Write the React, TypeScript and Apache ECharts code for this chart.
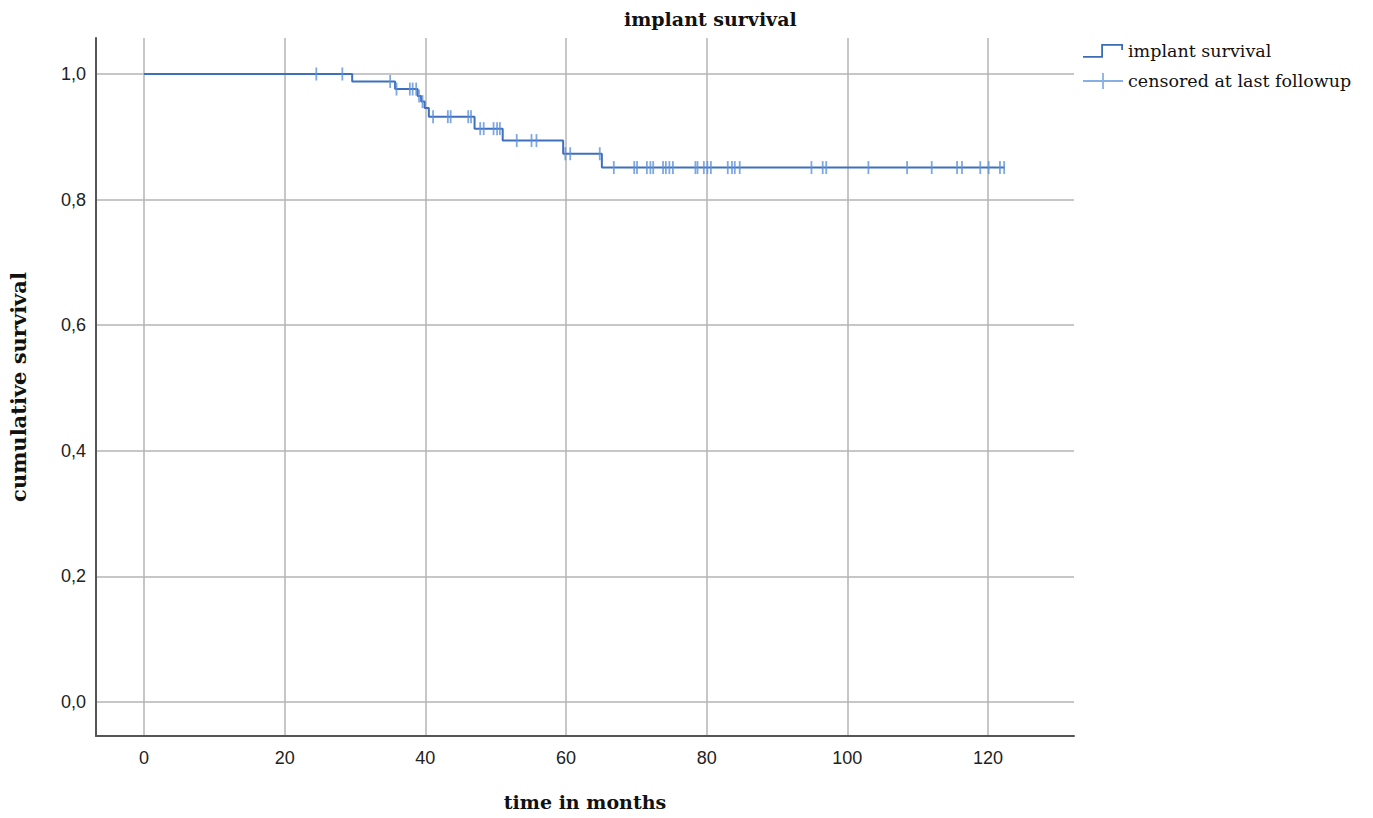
import React, { useEffect, useRef } from "react";
import * as echarts from "echarts";

// Kaplan-Meier step points: time (months) and survival after that time
const eventTimes = [0, 29.6, 35.7, 38.9, 39.4, 39.9, 40.5, 47.0, 51.0, 59.6, 65.1, 122.4];
const survival = [1.0, 0.988, 0.976, 0.965, 0.956, 0.946, 0.932, 0.913, 0.894, 0.873, 0.851, 0.851];

// censored observations (months)
const censorTimes = [
  24.5, 28.2, 35.0, 35.9, 37.8, 38.2, 38.7, 39.1, 39.6, 41.1, 43.2, 43.6, 46.1, 46.5,
  47.8, 48.3, 49.7, 50.2, 50.6, 53.0, 55.1, 55.8, 59.9, 60.6, 64.8, 66.8, 69.7, 70.1,
  71.5, 72.0, 72.4, 73.8, 74.2, 74.7, 75.2, 78.4, 78.7, 79.6, 80.1, 80.6, 83.0, 83.6,
  84.0, 84.7, 94.9, 96.5, 97.0, 103.0, 108.5, 112.0, 115.6, 116.3, 118.9, 120.1, 121.7, 122.3,
];

const xTicks = [0, 20, 40, 60, 80, 100, 120];
const yTicks = [0, 0.2, 0.4, 0.6, 0.8, 1.0];

const titleText = "implant survival";
const seriesName = "implant survival";
const censorName = "censored at last followup";
const xName = "time in months";
const yName = "cumulative survival";

function survivalAt(t: number): number {
  let v = survival[0];
  for (let i = 0; i < eventTimes.length; i++) {
    if (eventTimes[i] <= t) v = survival[i];
  }
  return v;
}

const stepIcon =
  "path://M0,13 L20,13 L20,14.8 L0,14.8 Z M18.2,1 L20,1 L20,14.8 L18.2,14.8 Z M18.2,1 L40,1 L40,2.8 L18.2,2.8 Z M38.2,1 L40,1 L40,7 L38.2,7 Z M0,0 L0.01,0 L0.01,16 L0,16 Z";
const crossIcon =
  "path://M0,7.1 L40,7.1 L40,8.9 L0,8.9 Z M19.1,0 L20.9,0 L20.9,16 L19.1,16 Z";

export default function App() {
  const ref = useRef<HTMLDivElement>(null);
  useEffect(() => {
    if (!ref.current) return;
    const chart = echarts.init(ref.current, undefined, { renderer: "svg" });
    const lineData = eventTimes.map((t, i) => [t, survival[i]]);
    const censorData = censorTimes.map((t) => [t, survivalAt(t)]);
    const sans = "Liberation Sans";
    const serif = "DejaVu Serif";
    chart.setOption({
      animation: false,
      backgroundColor: "#ffffff",
      title: {
        text: titleText,
        left: 619,
        top: 4,
        textStyle: { fontFamily: serif, fontWeight: "bold", fontSize: 19, color: "#111" },
      },
      legend: {
        orient: "vertical",
        left: 1078,
        top: 37,
        itemWidth: 40,
        itemHeight: 16,
        itemGap: 12,
        selectedMode: false,
        textStyle: { fontFamily: serif, fontSize: 17.5, color: "#111" },
        data: [
          { name: seriesName, icon: stepIcon, itemStyle: { color: "#3c6cb4", borderWidth: 0 } },
          { name: censorName, icon: crossIcon, itemStyle: { color: "#6a9ae0", borderWidth: 0 } },
        ],
      },
      grid: { left: 96, top: 38, width: 978, height: 698, containLabel: false },
      xAxis: {
        type: "value",
        min: -6.825,
        max: 132.23,
        name: xName,
        nameLocation: "middle",
        nameGap: 56,
        nameTextStyle: { fontFamily: serif, fontWeight: "bold", fontSize: 19, color: "#111" },
        axisLine: { show: true, onZero: false, lineStyle: { color: "#555", width: 2 } },
        axisTick: { show: false, customValues: xTicks },
        axisLabel: {
          customValues: xTicks,
          margin: 13,
          fontFamily: sans,
          fontSize: 18,
          color: "#222",
        },
        splitLine: { show: true, lineStyle: { color: "#b4b4b4", width: 1.5 } },
      },
      yAxis: {
        type: "value",
        min: -0.0541,
        max: 1.0573,
        name: yName,
        nameLocation: "middle",
        nameGap: 67,
        nameTextStyle: { fontFamily: serif, fontWeight: "bold", fontSize: 21, color: "#111" },
        axisLine: { show: true, onZero: false, lineStyle: { color: "#555", width: 2 } },
        axisTick: { show: false, customValues: yTicks },
        axisLabel: {
          customValues: yTicks,
          margin: 10,
          fontFamily: sans,
          fontSize: 18,
          color: "#222",
          formatter: (v: number) => v.toFixed(1).replace(".", ","),
        },
        splitLine: { show: true, lineStyle: { color: "#b4b4b4", width: 1.5 } },
      },
      series: [
        {
          name: seriesName,
          type: "line",
          step: "end",
          data: lineData,
          showSymbol: false,
          symbol: "none",
          lineStyle: { color: "#3f70bd", width: 2 },
          itemStyle: { color: "#3f70bd" },
          z: 2,
        },
        {
          name: censorName,
          type: "scatter",
          data: censorData,
          symbol: "rect",
          symbolSize: [1.8, 13],
          itemStyle: { color: "#5f92dc" },
          z: 3,
        },
      ],
    });
    return () => chart.dispose();
  }, []);
  return (
    <div
      ref={ref}
      style={{ position: "fixed", left: 0, top: 0, width: 1373, height: 818, background: "#fff" }}
    />
  );
}
